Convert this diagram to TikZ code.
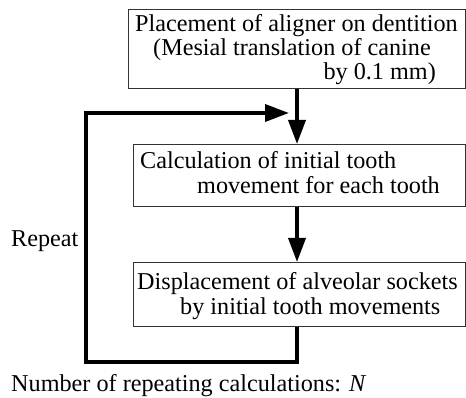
\documentclass[tikz,border=0pt]{standalone}
\usepackage{fontspec}
\setmainfont{Liberation Serif}
\usetikzlibrary{arrows.meta}
\begin{document}
\begin{tikzpicture}[x=1pt,y=-1pt,
  box/.style={draw=black!80, line width=1pt, anchor=north west, inner sep=0pt},
  txt/.style={inner sep=0pt, font=\fontsize{24.2}{24}\selectfont},
  flow/.style={line width=3.6pt, -{Triangle[length=24pt,width=17pt]}}]
\useasboundingbox (0,0) rectangle (466,398);
% boxes
\node[box, minimum width=337pt, minimum height=79pt] (b1) at (127.5,9) {};
\node[box, minimum width=332pt, minimum height=62pt] (b2) at (132.5,144) {};
\node[box, minimum width=332pt, minimum height=64pt] (b3) at (132.5,262) {};
% box texts
\node[txt, anchor=base west] (t1a) at (135,32) {Placement of aligner on dentition};
\node[txt, anchor=base west] (t1b) at (153,56) {(Mesial translation of canine};
\node[txt, anchor=base east] (t1c) at (436,80) {by 0.1 mm)};
\node[txt, anchor=base west] (t2a) at (140,169) {Calculation of initial tooth};
\node[txt, anchor=base west] (t2b) at (197,194) {movement for each tooth};
\node[txt, anchor=base west] (t3a) at (137,289) {Displacement of alveolar sockets};
\node[txt, anchor=base west] (t3b) at (180,314) {by initial tooth movements};
% labels
\node[txt, anchor=base west] (rep) at (11,247) {Repeat};
\node[txt, anchor=base west] (num) at (11,391) {Number of repeating calculations: \textit{N}};
% connectors
\coordinate (c1) at (297,88.5);
\coordinate (c2) at (297,362);
\coordinate (c3) at (86,362);
\coordinate (c4) at (86,113);
\coordinate (c5) at (289,113);
\draw[flow] (b1.south -| c1) -- (b2.north -| c1);
\draw[flow] (b2.south -| c1) -- (b3.north -| c1);
\draw[flow, line join=miter] (b3.south -| c2) -- (c2) -- (c3) -- (c4) -- (c5);
\end{tikzpicture}
\end{document}
